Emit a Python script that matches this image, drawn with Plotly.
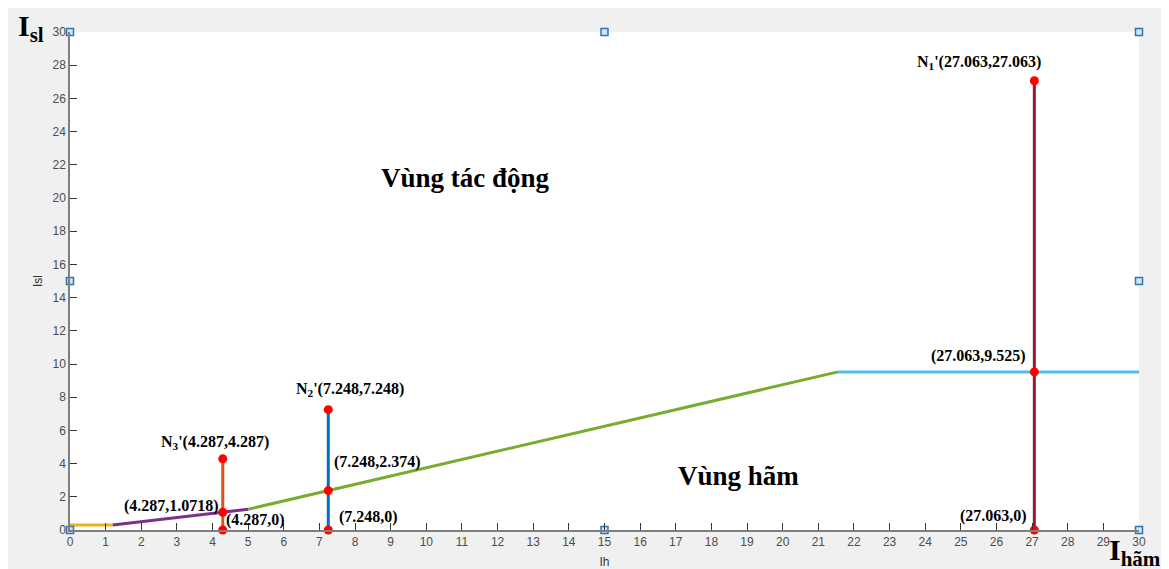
import plotly.graph_objects as go

# ---- data ----
orange_x = [0, 1.2]
orange_y = [0.3, 0.3]
purple_x = [1.2, 5]
purple_y = [0.3, 1.25]
green_x = [5, 21.55]
green_y = [1.25, 9.525]
cyan_x = [21.55, 30]
cyan_y = [9.525, 9.525]

fault_names = ["N<sub>3</sub>'", "N<sub>2</sub>'", "N<sub>1</sub>'"]
fault_x = [4.287, 7.248, 27.063]
fault_y = [4.287, 7.248, 27.063]
restr_y = [1.0718, 2.374, 9.525]
restr_lbl = ["1.0718", "2.374", "9.525"]
fault_x_lbl = ["4.287", "7.248", "27.063"]
fault_colors = ["#D95319", "#0072BD", "#A2142F"]

handle_x = [0, 0, 0, 15, 15, 30, 30, 30]
handle_y = [0, 15, 30, 0, 30, 0, 15, 30]

x_ticks = list(range(0, 31))
y_ticks = list(range(0, 31, 2))

fig = go.Figure()

for xs, ys, c in [(orange_x, orange_y, "#EDB120"), (purple_x, purple_y, "#7E2F8E"),
                  (green_x, green_y, "#77AC30"), (cyan_x, cyan_y, "#4DBEEE")]:
    fig.add_trace(go.Scatter(x=xs, y=ys, mode="lines", line=dict(color=c, width=3),
                             showlegend=False, hoverinfo="skip"))

for i in range(3):
    fig.add_trace(go.Scatter(x=[fault_x[i], fault_x[i]], y=[0, fault_y[i]], mode="lines",
                             line=dict(color=fault_colors[i], width=3),
                             showlegend=False, hoverinfo="skip"))

# red points
px, py = [], []
for i in range(3):
    px += [fault_x[i], fault_x[i], fault_x[i]]
    py += [fault_y[i], restr_y[i], 0]
fig.add_trace(go.Scatter(x=px, y=py, mode="markers", marker=dict(color="#FF0000", size=9),
                         showlegend=False, cliponaxis=False))

# selection handles
fig.add_trace(go.Scatter(x=handle_x, y=handle_y, mode="markers",
                         marker=dict(symbol="square", size=7, color="#cfe6f8",
                                     line=dict(color="#2f75b5", width=1.5)),
                         showlegend=False, cliponaxis=False, hoverinfo="skip"))

lblfont = dict(family="Liberation Serif", size=16, color="#000000")
shifts_top = [(-8, 16), (22, 20), (-55, 18)]
shifts_mid = [(-51, 6), (49, 29), (-56, 16)]
shifts_bot = [(33, 10), (40, 13), (-41, 14)]
for i in range(3):
    fig.add_annotation(x=fault_x[i], y=fault_y[i], xref="x", yref="y",
                       text=f"<b>{fault_names[i]}({fault_x_lbl[i]},{fault_x_lbl[i]})</b>",
                       showarrow=False, font=lblfont, xanchor="center", yanchor="middle",
                       xshift=shifts_top[i][0], yshift=shifts_top[i][1])
    fig.add_annotation(x=fault_x[i], y=restr_y[i], xref="x", yref="y",
                       text=f"<b>({fault_x_lbl[i]},{restr_lbl[i]})</b>",
                       showarrow=False, font=lblfont, xanchor="center", yanchor="middle",
                       xshift=shifts_mid[i][0], yshift=shifts_mid[i][1])
    fig.add_annotation(x=fault_x[i], y=0, xref="x", yref="y",
                       text=f"<b>({fault_x_lbl[i]},0)</b>",
                       showarrow=False, font=lblfont, xanchor="center", yanchor="middle",
                       xshift=shifts_bot[i][0], yshift=shifts_bot[i][1])

fig.add_annotation(x=11.1, y=21.2, xref="x", yref="y", text="<b>Vùng tác động</b>",
                   showarrow=False, xanchor="center", yanchor="middle",
                   font=dict(family="Liberation Serif", size=27, color="#000"))
fig.add_annotation(x=18.75, y=3.25, xref="x", yref="y", text="<b>Vùng hãm</b>",
                   showarrow=False, xanchor="center", yanchor="middle",
                   font=dict(family="Liberation Serif", size=27, color="#000"))

fig.add_annotation(x=-0.0505, y=1.008, xref="paper", yref="paper", text="<b>I<sub>sl</sub></b>",
                   showarrow=False, xanchor="left", yanchor="middle",
                   font=dict(family="Liberation Serif", size=30, color="#000"))
fig.add_annotation(x=1.0215, y=-0.0442, xref="paper", yref="paper", text="<b>I<sub>hãm</sub></b>",
                   showarrow=False, xanchor="right", yanchor="middle", borderpad=0,
                   font=dict(family="Liberation Serif", size=30, color="#000"))

axis_common = dict(showgrid=False, zeroline=False, showline=True, linecolor="#7f7f7f", linewidth=1.5,
                   ticks="inside", ticklen=7, tickcolor="#333333", tickwidth=1,
                   tickfont=dict(family="Liberation Sans", size=12, color="#4d4d4d"),
                   automargin=False, mirror=False)

fig.update_xaxes(range=[0, 30], tickvals=x_ticks, ticktext=[str(v) for v in x_ticks],
                 title=dict(text="Ih", font=dict(family="Liberation Sans", size=12, color="#333"), standoff=9),
                 **axis_common)
fig.update_yaxes(range=[0, 30], tickvals=y_ticks, ticktext=[str(v) for v in y_ticks],
                 title=dict(text="Isl", font=dict(family="Liberation Sans", size=12, color="#333"), standoff=7),
                 **axis_common)

# page body adds an 8px margin, so the figure is sized to fill the rest of the window
fig.update_layout(width=1161, height=561, margin=dict(l=62, r=30, t=24, b=39),
                  paper_bgcolor="#f0f0f0", plot_bgcolor="#ffffff", showlegend=False)

fig.write_html("out.html")
